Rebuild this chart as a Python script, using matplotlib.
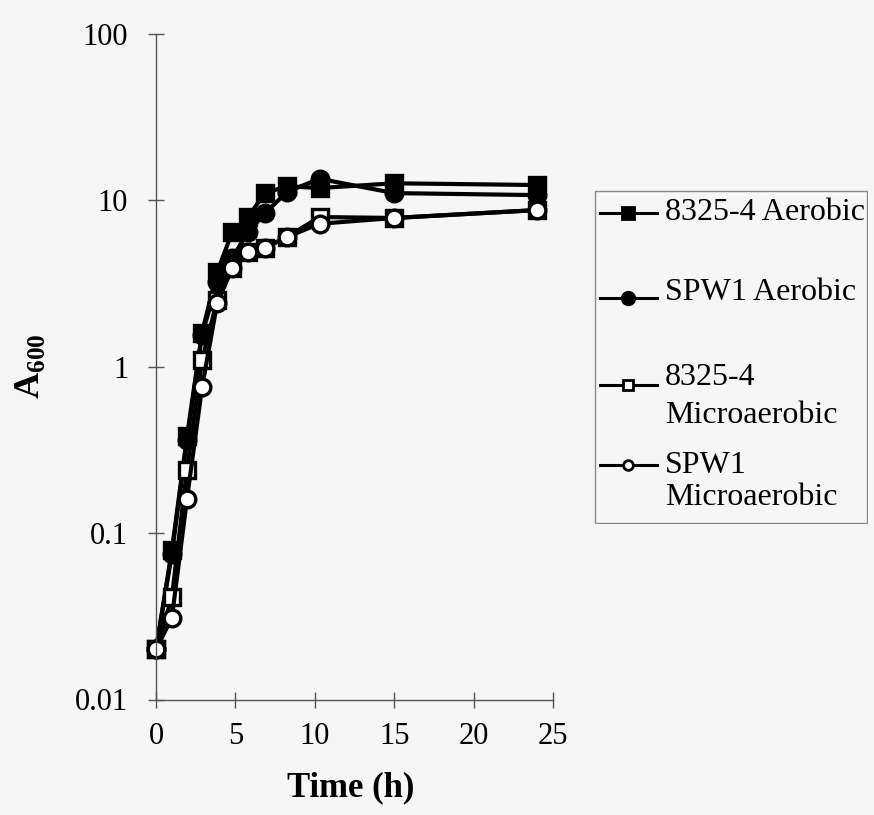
import matplotlib
matplotlib.use("Agg")
import matplotlib.pyplot as plt
from matplotlib.lines import Line2D
from matplotlib.patches import Rectangle

plt.rcParams['font.family'] = ['Liberation Serif', 'DejaVu Serif']
plt.rcParams['mathtext.fontset'] = 'custom'
plt.rcParams['mathtext.rm'] = 'Liberation Serif'
plt.rcParams['mathtext.bf'] = 'Liberation Serif:bold'

# Growth curves (A600 vs time)
time_h = [0, 1, 1.95, 2.9, 3.85, 4.8, 5.8, 6.85, 8.25, 10.3, 15, 24]
aerobic_8325 = [0.02, 0.079, 0.38, 1.6, 3.7, 6.4, 7.9, 11.0, 12.1, 11.8, 12.6, 12.3]
aerobic_spw1 = [0.02, 0.075, 0.36, 1.55, 3.2, 4.5, 6.4, 8.3, 11.2, 13.4, 11.0, 10.7]
micro_8325 = [0.02, 0.041, 0.24, 1.09, 2.5, 3.9, 4.9, 5.15, 6.0, 7.9, 7.8, 8.7]
micro_spw1 = [0.02, 0.031, 0.16, 0.75, 2.4, 3.9, 4.9, 5.15, 6.0, 7.2, 7.8, 8.7]

labels = ["8325-4 Aerobic", "SPW1 Aerobic", "8325-4\nMicroaerobic", "SPW1\nMicroaerobic"]
x_ticks = [0, 5, 10, 15, 20, 25]
y_ticks = [0.01, 0.1, 1, 10, 100]
y_tick_labels = ["0.01", "0.1", "1", "10", "100"]

W, H = 874, 815
bg = '#f6f6f6'
fig = plt.figure(figsize=(W / 100, H / 100), dpi=100, facecolor=bg)
ax = fig.add_axes([156 / W, 1 - 699.5 / H, 397 / W, 666 / H])
ax.set_facecolor(bg)

styles = [
    dict(marker='s', mfc='black', ms=12),
    dict(marker='o', mfc='black', ms=12),
    dict(marker='s', mfc='white', ms=11.5),
    dict(marker='o', mfc='white', ms=12),
]
series = [aerobic_8325, aerobic_spw1, micro_8325, micro_spw1]
for ys, st in zip(series, styles):
    ax.plot(time_h, ys, color='black', lw=3.0, mec='black', mew=2.4,
            clip_on=False, **st)

ax.set_yscale('log')
ax.set_xlim(0, 25)
ax.set_ylim(0.01, 100)
ax.set_xticks(x_ticks)
ax.set_xticklabels([str(t) for t in x_ticks])
ax.set_yticks(y_ticks)
ax.set_yticklabels(y_tick_labels)
ax.yaxis.set_minor_locator(matplotlib.ticker.NullLocator())
for s in ['top', 'right']:
    ax.spines[s].set_visible(False)
for s in ['left', 'bottom']:
    ax.spines[s].set_color('#555555')
    ax.spines[s].set_linewidth(1.0)
ax.tick_params(axis='both', direction='inout', length=12, width=1.0,
               color='#555555', labelsize=22)
ax.tick_params(axis='y', pad=14)
ax.tick_params(axis='x', pad=10)

ax.set_xlabel("Time (h)", fontsize=25, fontweight='bold')
ax.xaxis.label.set_va('center')
ax.xaxis.set_label_coords(0.49, -0.133)
ax.set_ylabel(r"$\mathbf{A}_{\mathbf{600}}$", fontsize=26)
ax.yaxis.label.set_va('center')
ax.yaxis.set_label_coords(-0.317, 0.5)

# Legend box drawn in pixel-like coordinates
lax = fig.add_axes([594 / W, 1 - 524 / H, 274 / W, 334 / H])
lax.set_xlim(594, 868)
lax.set_ylim(524, 190)
lax.axis('off')
lax.add_patch(Rectangle((595, 191), 272, 332, fill=False, edgecolor='#888888', lw=1.0))

handle_y = [213, 298, 385, 465]
text_lines = [[(212, "8325-4 Aerobic")],
              [(293, "SPW1 Aerobic")],
              [(378, "8325-4"), (416, "Microaerobic")],
              [(466, "SPW1"), (498, "Microaerobic")]]
leg_ms = [8.5, 9, 7.5, 7]
for hy, st, lines, ms in zip(handle_y, styles, text_lines, leg_ms):
    lax.add_line(Line2D([600, 657], [hy, hy], color='black', lw=2.2))
    lax.add_line(Line2D([628], [hy], marker=st['marker'], mfc=st['mfc'],
                        mec='black', mew=2.0, ms=ms, color='black'))
    for ty, txt in lines:
        lax.text(665, ty, txt, fontsize=23, va='center', ha='left')

fig.savefig("out.png", dpi=100, facecolor=bg)
